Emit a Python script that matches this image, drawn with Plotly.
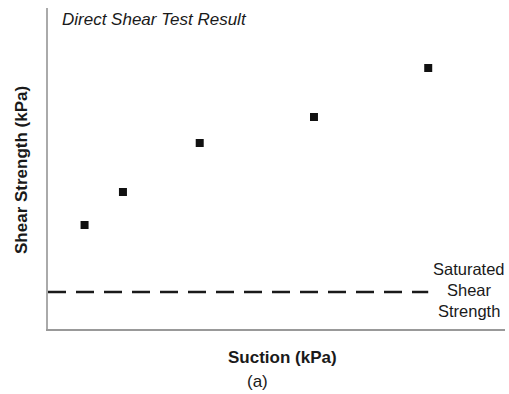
import plotly.graph_objects as go

# Data (arbitrary units, no ticks shown)
suction = [40, 82, 166, 291, 416]
shear_strength = [104, 137, 186, 212, 261]
saturated_x = [0, 416]
saturated_y = [37, 37]

W, H = 509, 394
ML, MR, MT, MB = 48, 4, 8, 65
PW, PH = W - ML - MR, H - MT - MB

def px(x):
    return (x - ML) / PW

def py(y):
    return (H - MB - y) / PH

fig = go.Figure()
fig.add_trace(go.Scatter(x=saturated_x, y=saturated_y, mode="lines",
                         line=dict(color="#1a1a1a", width=2.5, dash="18px,10px"),
                         showlegend=False, hoverinfo="skip"))
fig.add_trace(go.Scatter(x=suction, y=shear_strength, mode="markers",
                         marker=dict(symbol="square", size=8, color="#111"),
                         showlegend=False))

font = "Liberation Sans, Arial, sans-serif"
anns = [
    dict(text="<i>Direct Shear Test Result</i>", x=px(60), y=py(19), xanchor="left", yanchor="middle", size=17),
    dict(text="<b>Suction (kPa)</b>", x=px(282), y=py(358), xanchor="center", yanchor="middle", size=17),
    dict(text="(a)", x=px(257), y=py(382), xanchor="center", yanchor="middle", size=17),
    dict(text="Saturated", x=px(469), y=py(269), xanchor="center", yanchor="middle", size=16.5),
    dict(text="Shear", x=px(469), y=py(290), xanchor="center", yanchor="middle", size=16.5),
    dict(text="Strength", x=px(469), y=py(311), xanchor="center", yanchor="middle", size=16.5),
]
for a in anns:
    fig.add_annotation(text=a["text"], x=a["x"], y=a["y"], xref="paper", yref="paper",
                       xanchor=a["xanchor"], yanchor=a["yanchor"], showarrow=False,
                       font=dict(family=font, size=a["size"], color="#1a1a1a"))
fig.add_annotation(text="<b>Shear Strength (kPa)</b>", x=px(21), y=py(170), xref="paper", yref="paper",
                   xanchor="center", yanchor="middle", textangle=-90, showarrow=False,
                   font=dict(family=font, size=17, color="#1a1a1a"))

fig.update_xaxes(range=[0, PW * 500 / 457], showgrid=False, zeroline=False, showticklabels=False,
                 ticks="", showline=True, linecolor="#999", linewidth=1.5)
fig.update_yaxes(range=[0, PH], showgrid=False, zeroline=False, showticklabels=False,
                 ticks="", showline=True, linecolor="#aaa", linewidth=1.5)
fig.update_layout(width=W, height=H, margin=dict(l=ML, r=MR, t=MT, b=MB),
                  plot_bgcolor="white", paper_bgcolor="white")

fig.write_html("out.html")
